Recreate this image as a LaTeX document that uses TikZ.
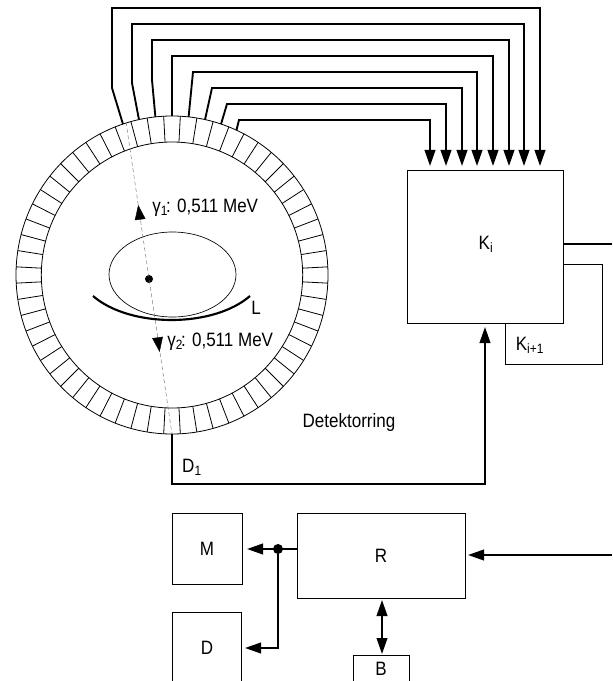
\documentclass[tikz,border=0pt]{standalone}
\usepackage{fontspec}
\setmainfont[FakeStretch=0.88]{Liberation Sans}
\usetikzlibrary{arrows.meta, shapes.geometric}
\tikzset{
    archbox/.style = {draw, line width=0.6pt, inner sep=0pt, fill=white},
    ringkreis/.style = {draw, ellipse, line width=0.6pt, inner sep=0pt, outer sep=0pt},
    link/.style    = {-{Triangle[length=12pt, width=8pt]}, line width=1.4pt},
    leitung/.style = {line width=1.4pt},
    strahl/.style  = {densely dashed, line width=0.3pt, black!60},
    beschr/.style  = {font=\fontsize{14.5}{17}\selectfont, inner sep=0pt},
    punkt/.style   = {circle, fill=black, inner sep=0pt}
}
\begin{document}
\begin{tikzpicture}[x=0.75pt, y=-0.75pt]
        \useasboundingbox (0,0) rectangle (612,681);

        % --- Detektorring ---
        \node[ringkreis, minimum width=234pt, minimum height=238.5pt] (ringa) at (172,275) {};
        \node[ringkreis, minimum width=196pt, minimum height=199.5pt] (ringi) at (172,275) {};
        \foreach \w in {3,9,...,357}
            \draw[line width=0.6pt] (ringa.\w) -- (ringi.\w);

        \node[draw, ellipse, line width=0.5pt, inner sep=0pt, minimum width=95.25pt, minimum height=63.75pt] (lunge) at (172.5,274.5) {};
        \node[punkt, minimum size=6pt] (quelle) at (149,279) {};
        \coordinate (s1) at (126,122);
        \coordinate (s2) at (172,434);
        \draw[strahl] (s1) -- (s2);

        \coordinate (g1a) at (140.2,220);
        \coordinate (g1b) at (138.2,205);
        \coordinate (g2a) at (157.6,338);
        \coordinate (g2b) at (159.6,352);
        \draw[-{Triangle[length=11pt, width=8pt]}, line width=0.3pt] (g1a) -- (g1b);
        \draw[-{Triangle[length=11pt, width=8pt]}, line width=0.3pt] (g2a) -- (g2b);
        \node[beschr, anchor=west] (gamma1) at (152,208) {γ\textsubscript{1}\kern-1.5pt: 0,511 MeV};
        \node[beschr, anchor=west] (gamma2) at (167,342) {γ\textsubscript{2}\kern-1.5pt: 0,511 MeV};

        \coordinate (la) at (93,296);
        \coordinate (lb) at (250,296);
        \draw[line width=1.6pt] (la) .. controls (130,328) and (213,328) .. (lb);
        \node[beschr] (lname) at (256,308) {L};
        \node[beschr] (detname) at (349,422) {Detektorring};
        \node[beschr] (d1name) at (192,467) {D\textsubscript{1}};

        % --- Koinzidenz ---
        \node[archbox, minimum width=72.75pt, minimum height=75pt] (kb) at (553.5,314) {};
        \node[archbox, minimum width=117pt, minimum height=114.75pt] (ki) at (485,246.5) {};
        \node[beschr] (kiname) at (486,244) {K\textsubscript{i}};
        \node[beschr] (kbname) at (530,345) {K\textsubscript{i+1}};

        \coordinate (k1) at (430,166);
        \coordinate (k2) at (446,166);
        \coordinate (k3) at (462,166);
        \coordinate (k4) at (477,166);
        \coordinate (k5) at (493,166);
        \coordinate (k6) at (509,166);
        \coordinate (k7) at (524,166);
        \coordinate (k8) at (540,166);

        \draw[link] (ringa.66)  -- (239,120) -| (k1);
        \draw[link] (ringa.72)  -- (227,104) -| (k2);
        \draw[link] (ringa.78)  -- (212,88)  -| (k3);
        \draw[link] (ringa.84)  -- (193,72)  -| (k4);
        \draw[link] (ringa.90)  -- (172,56)  -| (k5);
        \draw[link] (ringa.96)  -- (152,80) -- (152,40) -| (k6);
        \draw[link] (ringa.102) -- (132,83) -- (132,24) -| (k7);
        \draw[link] (ringa.108) -- (112,88) -- (112,8)  -| (k8);

        \coordinate (kaus) at (612,244);
        \draw[leitung] (ki.east |- kaus) -- (kaus);
        \coordinate (kein) at (485,327);
        \draw[link] (ringa.south) -- (172,484) -| (kein);

        % --- Rechner ---
        \node[archbox, minimum width=126pt, minimum height=63.75pt] (rech) at (381,555.5) {};
        \node[beschr] at (rech.center) {R};
        \node[archbox, minimum width=52.5pt, minimum height=53.25pt] (mon) at (207,548.5) {};
        \node[beschr] at (mon.center) {M};
        \node[archbox, minimum width=51.75pt, minimum height=75pt] (disp) at (206.5,662) {};
        \node[beschr] at (207,648) {D};
        \node[archbox, minimum width=42pt, minimum height=30pt] (band) at (381,675) {};
        \node[beschr] at (381,669) {B};
        \node[punkt, minimum size=7.5pt] (knoten) at (278,549) {};

        \coordinate (rein) at (612,555);
        \coordinate (mein) at (247,549);
        \coordinate (dein) at (245,648);
        \draw[link] (rein) -- (468,555);
        \draw[link] (rech.west |- knoten) -- (mein);
        \draw[link] (knoten) |- (dein);
        \draw[{Triangle[length=12pt, width=8pt]}-{Triangle[length=12pt, width=8pt]}, line width=1.4pt] (382,600) -- (382,654);
\end{tikzpicture}
\end{document}
